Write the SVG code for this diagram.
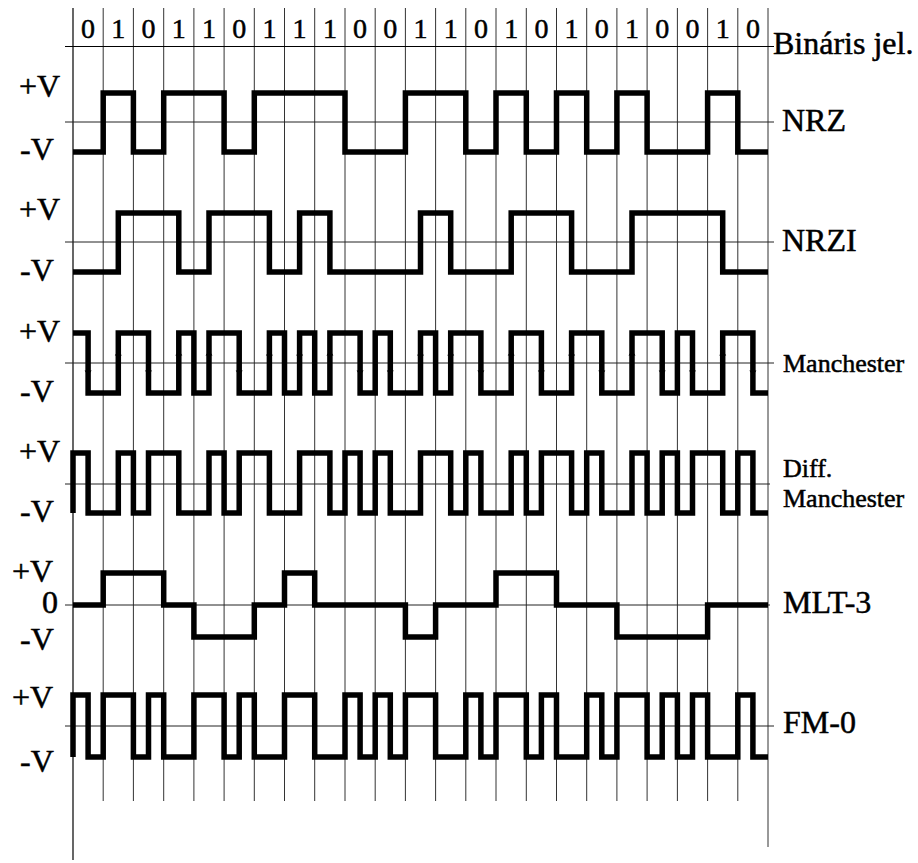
<svg xmlns="http://www.w3.org/2000/svg" xmlns:xlink="http://www.w3.org/1999/xlink" width="918" height="863" viewBox="0 0 918 863">
<style>
.grid{stroke:#333;stroke-width:1;fill:none}
.axis{stroke:#000;stroke-width:1.2;fill:none}
.mid{stroke:#222;stroke-width:1;fill:none}
.wave{stroke:#000;stroke-width:5.5;fill:none;stroke-linejoin:miter;stroke-linecap:butt}
.t{font-family:"Liberation Serif","Times New Roman",serif;fill:#000;stroke:#000;stroke-width:0.5}
.bit{font-size:28px;text-anchor:middle}
.lab{font-size:32px}
.lv{font-size:32px}
.sm{font-size:26px}
</style>
<defs>
<path id="up" d="M-3.5,2.5 L0,-2.5 L3.5,2.5 Z" fill="#000"/>
<path id="dn" d="M-3.5,-2.5 L0,2.5 L3.5,-2.5 Z" fill="#000"/>
</defs>
<rect width="918" height="863" fill="#fff"/>
<g id="grid">
<line class="axis" x1="73" y1="8" x2="73" y2="860"/>
<line class="grid" x1="768" y1="8" x2="768" y2="847"/>
<g class="grid">
<line x1="103.2" y1="8" x2="103.2" y2="801"/>
<line x1="133.4" y1="8" x2="133.4" y2="801"/>
<line x1="163.7" y1="8" x2="163.7" y2="801"/>
<line x1="193.9" y1="8" x2="193.9" y2="801"/>
<line x1="224.1" y1="8" x2="224.1" y2="801"/>
<line x1="254.3" y1="8" x2="254.3" y2="801"/>
<line x1="284.5" y1="8" x2="284.5" y2="801"/>
<line x1="314.7" y1="8" x2="314.7" y2="801"/>
<line x1="345" y1="8" x2="345" y2="801"/>
<line x1="375.2" y1="8" x2="375.2" y2="801"/>
<line x1="405.4" y1="8" x2="405.4" y2="801"/>
<line x1="435.6" y1="8" x2="435.6" y2="801"/>
<line x1="465.8" y1="8" x2="465.8" y2="801"/>
<line x1="496" y1="8" x2="496" y2="801"/>
<line x1="526.3" y1="8" x2="526.3" y2="801"/>
<line x1="556.5" y1="8" x2="556.5" y2="801"/>
<line x1="586.7" y1="8" x2="586.7" y2="801"/>
<line x1="616.9" y1="8" x2="616.9" y2="801"/>
<line x1="647.1" y1="8" x2="647.1" y2="801"/>
<line x1="677.4" y1="8" x2="677.4" y2="801"/>
<line x1="707.6" y1="8" x2="707.6" y2="801"/>
<line x1="737.8" y1="8" x2="737.8" y2="801"/>
</g>
</g>
<g id="binary">
<line class="axis" x1="65" y1="46.5" x2="774" y2="46.5"/>
<g class="t bit">
<text x="88.1" y="38">0</text><text x="118.3" y="38">1</text><text x="148.5" y="38">0</text><text x="178.8" y="38">1</text><text x="209" y="38">1</text><text x="239.2" y="38">0</text><text x="269.4" y="38">1</text><text x="299.6" y="38">1</text><text x="329.9" y="38">1</text><text x="360.1" y="38">0</text><text x="390.3" y="38">0</text><text x="420.5" y="38">1</text><text x="450.7" y="38">1</text><text x="480.9" y="38">0</text><text x="511.2" y="38">1</text><text x="541.4" y="38">0</text><text x="571.6" y="38">1</text><text x="601.8" y="38">0</text><text x="632" y="38">1</text><text x="662.2" y="38">0</text><text x="692.5" y="38">0</text><text x="722.7" y="38">1</text><text x="752.9" y="38">0</text>
</g>
<text class="t lab" x="773" y="54">Bináris jel.</text>
</g>
<g id="nrz">
<line class="mid" x1="65" y1="122" x2="774" y2="122"/>
<path class="wave" d="M73,152 H103.2 V93 H133.4 V152 H163.7 V93 H224.1 V152 H254.3 V93 H345 V152 H405.4 V93 H465.8 V152 H496 V93 H526.3 V152 H556.5 V93 H586.7 V152 H616.9 V93 H647.1 V152 H707.6 V93 H737.8 V152 H768"/>
<text class="t lv" x="19" y="97">+V</text>
<text class="t lv" x="20" y="160">-V</text>
<text class="t lab" x="782" y="131">NRZ</text>
</g>
<g id="nrzi">
<line class="mid" x1="65" y1="242" x2="774" y2="242"/>
<path class="wave" d="M73,272 H118.3 V213 H178.8 V272 H209 V213 H269.4 V272 H299.6 V213 H329.9 V272 H420.5 V213 H450.7 V272 H511.2 V213 H571.6 V272 H632 V213 H722.7 V272 H768"/>
<text class="t lv" x="19" y="220">+V</text>
<text class="t lv" x="20" y="281">-V</text>
<text class="t lab" x="782" y="251">NRZI</text>
</g>
<g id="manchester">
<line class="mid" x1="65" y1="363" x2="774" y2="363"/>
<path class="wave" d="M73,333 H88.1 V393 H118.3 V333 H148.5 V393 H178.8 V333 H193.9 V393 H209 V333 H239.2 V393 H269.4 V333 H284.5 V393 H299.6 V333 H314.7 V393 H329.9 V333 H360.1 V393 H375.2 V333 H390.3 V393 H420.5 V333 H435.6 V393 H450.7 V333 H480.9 V393 H511.2 V333 H541.4 V393 H571.6 V333 H601.8 V393 H632 V333 H662.2 V393 H677.4 V333 H692.5 V393 H722.7 V333 H752.9 V393 H768"/>
<use xlink:href="#dn" x="88.1" y="373"/><use xlink:href="#up" x="118.3" y="353"/><use xlink:href="#dn" x="148.5" y="373"/><use xlink:href="#up" x="178.8" y="353"/><use xlink:href="#up" x="209" y="353"/><use xlink:href="#dn" x="239.2" y="373"/><use xlink:href="#up" x="269.4" y="353"/><use xlink:href="#up" x="299.6" y="353"/><use xlink:href="#up" x="329.9" y="353"/><use xlink:href="#dn" x="360.1" y="373"/><use xlink:href="#dn" x="390.3" y="373"/><use xlink:href="#up" x="420.5" y="353"/><use xlink:href="#up" x="450.7" y="353"/><use xlink:href="#dn" x="480.9" y="373"/><use xlink:href="#up" x="511.2" y="353"/><use xlink:href="#dn" x="541.4" y="373"/><use xlink:href="#up" x="571.6" y="353"/><use xlink:href="#dn" x="601.8" y="373"/><use xlink:href="#up" x="632" y="353"/><use xlink:href="#dn" x="662.2" y="373"/><use xlink:href="#dn" x="692.5" y="373"/><use xlink:href="#up" x="722.7" y="353"/><use xlink:href="#dn" x="752.9" y="373"/>
<text class="t lv" x="19" y="342">+V</text>
<text class="t lv" x="20" y="402">-V</text>
<text class="t sm" x="783" y="372">Manchester</text>
</g>
<g id="diff-manchester">
<line class="mid" x1="65" y1="484" x2="770" y2="484"/>
<path class="wave" d="M73,513 V453 H88.1 V513 H118.3 V453 H133.4 V513 H148.5 V453 H178.8 V513 H209 V453 H224.1 V513 H239.2 V453 H269.4 V513 H299.6 V453 H329.9 V513 H345 V453 H360.1 V513 H375.2 V453 H390.3 V513 H420.5 V453 H450.7 V513 H465.8 V453 H480.9 V513 H511.2 V453 H526.3 V513 H541.4 V453 H571.6 V513 H586.7 V453 H601.8 V513 H632 V453 H647.1 V513 H662.2 V453 H677.4 V513 H692.5 V453 H722.7 V513 H737.8 V453 H752.9 V513 H768"/>
<text class="t lv" x="19" y="462">+V</text>
<text class="t lv" x="20" y="522">-V</text>
<text class="t sm" x="783" y="477">Diff.</text>
<text class="t sm" x="783" y="507">Manchester</text>
</g>
<g id="mlt-3">
<line class="mid" x1="65" y1="605" x2="770" y2="605"/>
<path class="wave" d="M73,605 H103.2 V573 H163.7 V605 H193.9 V637 H254.3 V605 H284.5 V573 H314.7 V605 H405.4 V637 H435.6 V605 H496 V573 H556.5 V605 H616.9 V637 H707.6 V605 H768"/>
<text class="t lv" x="12" y="582">+V</text>
<text class="t lv" x="42" y="613">0</text>
<text class="t lv" x="20" y="650">-V</text>
<text class="t lab" x="783" y="613">MLT-3</text>
</g>
<g id="fm-0">
<line class="mid" x1="65" y1="726" x2="774" y2="726"/>
<path class="wave" d="M73,757 V695 H88.1 V757 H103.2 V695 H133.4 V757 H148.5 V695 H163.7 V757 H193.9 V695 H224.1 V757 H239.2 V695 H254.3 V757 H284.5 V695 H314.7 V757 H345 V695 H360.1 V757 H375.2 V695 H390.3 V757 H405.4 V695 H435.6 V757 H465.8 V695 H480.9 V757 H496 V695 H526.3 V757 H541.4 V695 H556.5 V757 H586.7 V695 H601.8 V757 H616.9 V695 H647.1 V757 H662.2 V695 H677.4 V757 H692.5 V695 H707.6 V757 H737.8 V695 H752.9 V757 H768"/>
<text class="t lv" x="12" y="708">+V</text>
<text class="t lv" x="20" y="772">-V</text>
<text class="t lab" x="783" y="733">FM-0</text>
</g>
</svg>
